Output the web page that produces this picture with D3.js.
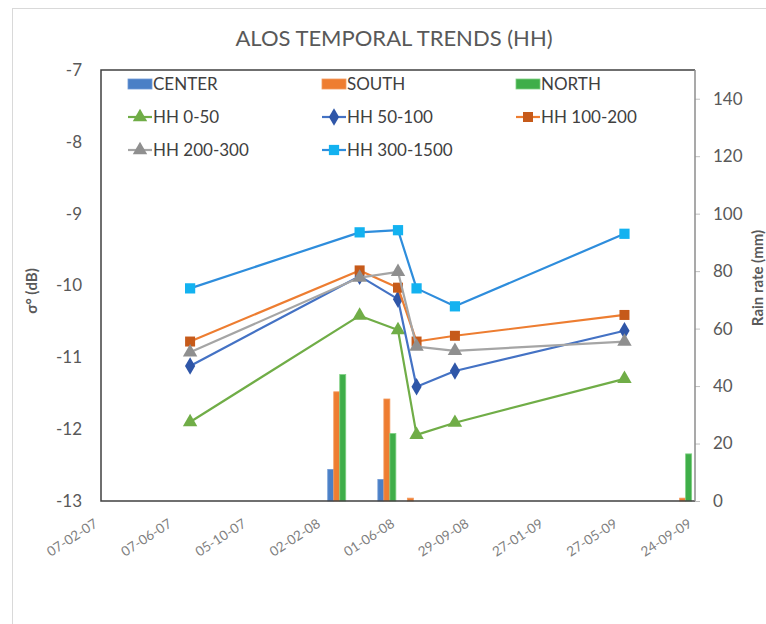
<!DOCTYPE html>
<html>
<head>
<meta charset="utf-8">
<script src="https://cdn.jsdelivr.net/npm/d3@7"></script>
<style>
  html, body { margin: 0; padding: 0; background: #fff; }
  svg { display: block; font-family: Lato, "Open Sans", sans-serif; }
</style>
</head>
<body>
<svg id="chart" width="766" height="624"></svg>
<script>
// ---- data ----
const xTickDates = ["2007-02-07","2007-06-07","2007-10-05","2008-02-02","2008-06-01","2008-09-29","2009-01-27","2009-05-27","2009-09-24"];
const leftTicks = [-13,-12,-11,-10,-9,-8,-7];
const rightTicks = [0,20,40,60,80,100,120,140];

// SAR acquisition dates and backscatter (dB) per class
const lineDates = ["2007-07-01","2008-03-31","2008-06-01","2008-07-01","2008-09-01","2009-06-02"];
const hh0_50     = [-11.90,-10.42,-10.62,-12.08,-11.91,-11.30];
const hh50_100   = [-11.12, -9.87,-10.19,-11.41,-11.19,-10.63];
const hh100_200  = [-10.78, -9.79,-10.03,-10.78,-10.70,-10.41];
const hh200_300  = [-10.93, -9.89, -9.81,-10.85,-10.91,-10.78];
const hh300_1500 = [-10.04, -9.26, -9.23,-10.04,-10.29, -9.28];

// rain gauges (mm)
const rainDates = ["2008-02-23","2008-05-14","2008-06-21","2009-09-04"];
const rainCenter = [11, 7.5, 0, 0];
const rainSouth  = [38, 35.5, 1, 1];
const rainNorth  = [44, 23.5, 0, 16.4];

// ---- setup ----
const parse = d3.timeParse("%Y-%m-%d");
const fmt = d3.timeFormat("%d-%m-%y");
const svg = d3.select("#chart");
const plot = {left: 101, right: 695, top: 70, bottom: 501};

const x = d3.scaleTime()
  .domain([parse(xTickDates[0]), parse(xTickDates[xTickDates.length - 1])])
  .range([plot.left, plot.right]);
const yL = d3.scaleLinear().domain([-13, -7]).range([plot.bottom, plot.top]);
const yR = d3.scaleLinear().domain([0, 150]).range([plot.bottom, plot.top]);

const textColor = "#595959";

// outer chart frame
svg.append("rect")
  .attr("x", 12.5).attr("y", 8.5).attr("width", 800).attr("height", 700)
  .attr("fill", "#fff").attr("stroke", "#d9d9d9").attr("stroke-width", 1);

// title
svg.append("text")
  .attr("x", 394).attr("y", 46)
  .attr("text-anchor", "middle")
  .attr("font-size", 22).attr("fill", textColor)
  .text("ALOS TEMPORAL TRENDS (HH)");

// ---- axes ----
const leftAxis = svg.append("g")
  .attr("transform", `translate(${plot.left},0)`)
  .call(d3.axisLeft(yL).tickValues(leftTicks).tickSize(0).tickPadding(19).tickFormat(d => String(d)));
leftAxis.select(".domain").remove();
leftAxis.selectAll("text").attr("font-size", 17).attr("fill", textColor).attr("font-family", "Lato, sans-serif");

const rightAxis = svg.append("g")
  .attr("transform", `translate(${plot.right},0)`)
  .call(d3.axisRight(yR).tickValues(rightTicks).tickSize(5).tickPadding(13));
rightAxis.select(".domain").remove();
rightAxis.selectAll("line").attr("stroke", "#bfbfbf");
rightAxis.selectAll("text").attr("font-size", 17).attr("fill", textColor).attr("font-family", "Lato, sans-serif");

const bottomAxis = svg.append("g")
  .attr("transform", `translate(0,${plot.bottom})`)
  .call(d3.axisBottom(x).tickValues(xTickDates.map(parse)).tickSize(0).tickFormat(fmt));
bottomAxis.select(".domain").remove();
bottomAxis.selectAll("text")
  .attr("font-size", 13.5).attr("fill", "#7f7f7f").attr("font-family", "Lato, sans-serif")
  .attr("text-anchor", "end")
  .attr("dy", null).attr("y", null)
  .attr("transform", "translate(-3,25) rotate(-33)");

// axis titles
svg.append("text")
  .attr("transform", "translate(37,291) rotate(-90)")
  .attr("text-anchor", "middle")
  .attr("font-size", 15).attr("font-weight", "bold").attr("fill", textColor)
  .text("σ° (dB)");
svg.append("text")
  .attr("transform", "translate(763,278) rotate(-90)")
  .attr("text-anchor", "middle")
  .attr("font-size", 15).attr("font-weight", "bold").attr("fill", textColor)
  .text("Rain rate (mm)");

// ---- bars (right axis) ----
const barSeries = [
  {name: "CENTER", values: rainCenter, color: "#4a7fc6", stroke: "#6f9ad6"},
  {name: "SOUTH",  values: rainSouth,  color: "#ee7d31", stroke: "#f39a5e"},
  {name: "NORTH",  values: rainNorth,  color: "#3fae49", stroke: "#7fd083"}
];
const barW = 6;
const barG = svg.append("g");
barSeries.forEach((s, i) => {
  barG.selectAll(null)
    .data(rainDates.map((d, k) => ({date: parse(d), v: s.values[k]})).filter(d => d.v > 0))
    .enter().append("rect")
    .attr("x", d => x(d.date) + (i - 1.5) * barW)
    .attr("y", d => yR(d.v))
    .attr("width", barW)
    .attr("height", d => yR(0) - yR(d.v))
    .attr("fill", s.color)
    .attr("stroke", s.stroke).attr("stroke-width", 0.8);
});

// plot border
const border = svg.append("g").attr("fill", "none");
border.append("path")
  .attr("d", `M${plot.right},${plot.top}H${plot.left}V${plot.bottom}H${plot.right}`)
  .attr("stroke", "#404040").attr("stroke-width", 1.5);
border.append("line")
  .attr("x1", plot.right).attr("x2", plot.right).attr("y1", plot.top).attr("y2", plot.bottom)
  .attr("stroke", "#8c8c8c").attr("stroke-width", 1.5);

// ---- lines (left axis) ----
const lineSeries = [
  {name: "HH 0-50",     values: hh0_50,     color: "#70ad47", marker: "#70ad47", shape: d3.symbolTriangle, size: 90},
  {name: "HH 50-100",   values: hh50_100,   color: "#4472c4", marker: "#2f56a8", shape: d3.symbolDiamond,  size: 90},
  {name: "HH 100-200",  values: hh100_200,  color: "#ed7d31", marker: "#c65a1a", shape: d3.symbolSquare,   size: 100},
  {name: "HH 200-300",  values: hh200_300,  color: "#a5a5a5", marker: "#8f8f8f", shape: d3.symbolTriangle, size: 90},
  {name: "HH 300-1500", values: hh300_1500, color: "#2e8ddc", marker: "#13b2f0", shape: d3.symbolSquare,   size: 105}
];
const line = d3.line().x(d => x(d.date)).y(d => yL(d.v));
const linesG = svg.append("g");
lineSeries.forEach(s => {
  const pts = lineDates.map((d, k) => ({date: parse(d), v: s.values[k]}));
  linesG.append("path").datum(pts)
    .attr("d", line).attr("fill", "none")
    .attr("stroke", s.color).attr("stroke-width", 2.2).attr("stroke-linejoin", "round");
  linesG.selectAll(null).data(pts).enter().append("path")
    .attr("transform", d => `translate(${x(d.date)},${yL(d.v)})`)
    .attr("d", d3.symbol(s.shape, s.size))
    .attr("fill", s.marker);
});

// ---- legend ----
const legendColor = "#404040";
const legend = svg.append("g").attr("font-size", 17).attr("fill", legendColor);
const colX = [128, 322, 516];
const rowY = [84, 117, 150];
barSeries.forEach((s, i) => {
  const g = legend.append("g").attr("transform", `translate(${colX[i]},${rowY[0]})`);
  g.append("rect").attr("x", 0).attr("y", -5).attr("width", 24).attr("height", 10)
    .attr("fill", s.color).attr("stroke", s.stroke).attr("stroke-width", 0.8);
  g.append("text").attr("x", 25).attr("y", 6).attr("fill", legendColor).text(s.name);
});
lineSeries.forEach((s, i) => {
  const row = 1 + Math.floor(i / 3), col = i % 3;
  const g = legend.append("g").attr("transform", `translate(${colX[col]},${rowY[row]})`);
  g.append("line").attr("x1", 0).attr("x2", 24).attr("y1", 0).attr("y2", 0)
    .attr("stroke", s.color).attr("stroke-width", 2.2);
  g.append("path").attr("transform", "translate(12,0)")
    .attr("d", d3.symbol(s.shape, s.size)).attr("fill", s.marker);
  g.append("text").attr("x", 25).attr("y", 6).attr("fill", legendColor).text(s.name);
});
</script>
</body>
</html>
